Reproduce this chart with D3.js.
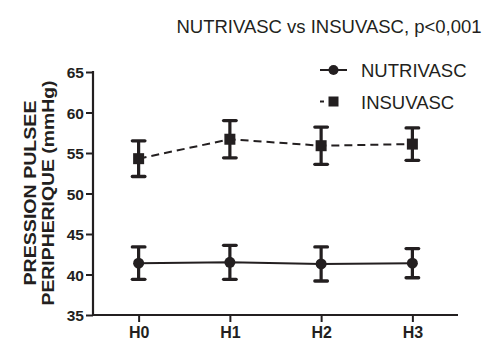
<!DOCTYPE html>
<html><head><meta charset="utf-8">
<script src="https://cdn.jsdelivr.net/npm/d3@7"></script>
<style>body{margin:0;background:#fff}svg{display:block}text{font-family:"Liberation Sans",Arial,sans-serif}</style>
</head><body><svg id="c" width="488" height="347"></svg>
<script>
const categories = ["H0","H1","H2","H3"];
const nutrivasc = [41.4, 41.5, 41.3, 41.4];
const nutrivascErr = [2.0, 2.1, 2.1, 1.8];
const insuvasc = [54.3, 56.7, 55.9, 56.1];
const insuvascErr = [2.2, 2.3, 2.3, 2.0];
const yTicks = [35,40,45,50,55,60,65];

const svg = d3.select("#c");
const x = d3.scalePoint().domain(categories).range([93,458]).padding(0.5);
const y = d3.scaleLinear().domain([35,65]).range([315,72]);
const ink = "#231f20";

svg.append("text").attr("x",329).attr("y",33).attr("text-anchor","middle")
  .style("font-size","18.5px").attr("fill",ink).text("NUTRIVASC vs INSUVASC, p<0,001");

// axes
const ya = svg.append("g").attr("transform","translate(93,0)")
  .call(d3.axisLeft(y).tickValues(yTicks).tickSize(7).tickPadding(2).tickFormat(d3.format("d")));
const xa = svg.append("g").attr("transform","translate(0,315)")
  .call(d3.axisBottom(x).tickSize(7).tickPadding(5));
[ya,xa].forEach(g=>{
  g.select(".domain").attr("stroke",ink).attr("stroke-width",2.2);
  g.selectAll(".tick line").attr("stroke",ink).attr("stroke-width",2);
  g.selectAll("text").attr("fill",ink).style("font-weight","bold")
   .style("font-family","'Liberation Sans',Arial,sans-serif");
});
ya.selectAll("text").style("font-size","15.5px").attr("dy","0.36em");
xa.selectAll("text").style("font-size","16px").attr("dy","0.71em");
xa.select(".domain").attr("d","M92,0H458");
ya.select(".domain").attr("d","M0,71V316");

// y label
const yl = svg.append("text").attr("transform","translate(0,193) rotate(-90)")
  .attr("text-anchor","middle").style("font-size","16px").style("font-weight","bold").attr("fill",ink);
yl.append("tspan").attr("x",0).attr("y",36).attr("textLength",185).attr("lengthAdjust","spacingAndGlyphs").text("PRESSION PULSEE");
yl.append("tspan").attr("x",0).attr("y",54).attr("textLength",225).attr("lengthAdjust","spacingAndGlyphs").text("PERIPHERIQUE (mmHg)");

function series(vals, errs, dashed, marker){
  const g = svg.append("g");
  const line = d3.line().x((d,i)=>x(categories[i])).y(d=>y(d));
  g.append("path").datum(vals).attr("d",line).attr("fill","none").attr("stroke",ink)
    .attr("stroke-width",2).attr("stroke-dasharray",dashed?"8,5":null);
  vals.forEach((v,i)=>{
    const cx = x(categories[i]);
    const t = y(v+errs[i]), b = y(v-errs[i]);
    g.append("line").attr("x1",cx).attr("x2",cx).attr("y1",t).attr("y2",b).attr("stroke",ink).attr("stroke-width",3.2);
    [t,b].forEach(yy=>g.append("line").attr("x1",cx-6.3).attr("x2",cx+6.3).attr("y1",yy).attr("y2",yy)
      .attr("stroke",ink).attr("stroke-width",3.3).attr("stroke-linecap","round"));
    if(marker==="circle") g.append("circle").attr("cx",cx).attr("cy",y(v)).attr("r",5.5).attr("fill",ink);
    else g.append("rect").attr("x",cx-5.5).attr("y",y(v)-5.5).attr("width",11).attr("height",11).attr("fill",ink);
  });
}
series(insuvasc, insuvascErr, true, "square");
series(nutrivasc, nutrivascErr, false, "circle");

// legend
const leg = [{name:"NUTRIVASC",m:"circle",yy:70},{name:"INSUVASC",m:"square",yy:101.5}];
leg.forEach(l=>{
  if(l.m==="circle"){
    svg.append("line").attr("x1",320).attr("x2",347).attr("y1",l.yy).attr("y2",l.yy)
      .attr("stroke",ink).attr("stroke-width",2);
    svg.append("circle").attr("cx",333.5).attr("cy",l.yy).attr("r",5).attr("fill",ink);
  } else {
    svg.append("line").attr("x1",320).attr("x2",347).attr("y1",l.yy).attr("y2",l.yy)
      .attr("stroke",ink).attr("stroke-width",2).attr("stroke-dasharray","4,24,3");
    svg.append("rect").attr("x",328.5).attr("y",l.yy-5).attr("width",10).attr("height",10).attr("fill",ink);
  }
  svg.append("text").attr("x",361).attr("y",l.yy+7).style("font-size","18.5px").attr("fill",ink).text(l.name);
});
</script></body></html>
